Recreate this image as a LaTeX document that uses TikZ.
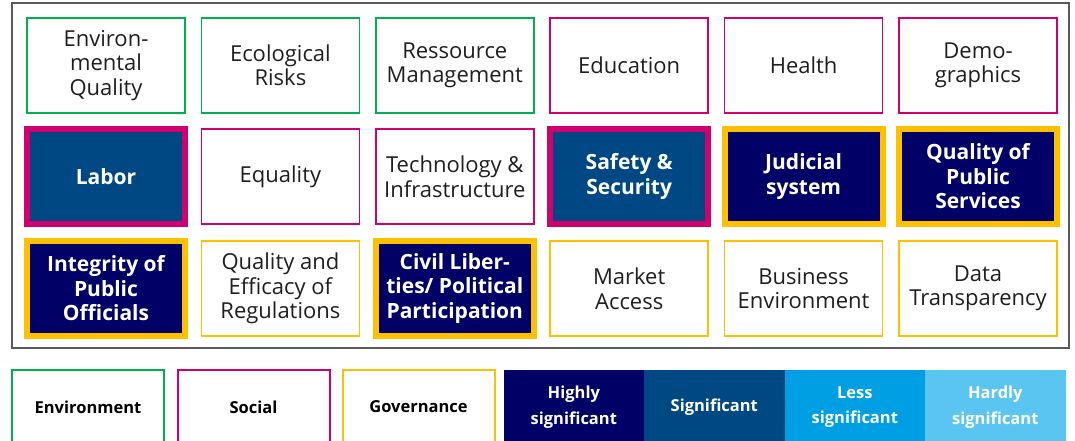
\documentclass[tikz,border=0pt]{standalone}
\usepackage{fontspec}
\setmainfont{Open Sans}
\usetikzlibrary{positioning}
\definecolor{envgreen}{HTML}{00B050}
\definecolor{socmagenta}{HTML}{D0006F}
\definecolor{govgold}{HTML}{FFC000}
\definecolor{highnavy}{HTML}{000066}
\definecolor{signavy}{HTML}{004884}
\definecolor{lessblue}{HTML}{009FE3}
\definecolor{hardblue}{HTML}{5BC5F2}
\definecolor{framegray}{HTML}{595959}
\definecolor{inkgray}{HTML}{1F1F1F}
\begin{document}
\begin{tikzpicture}[x=1pt,y=-1pt,
    factor/.style={draw,line width=1.5pt,fill=white,minimum width=158pt,minimum height=95pt,
      inner sep=0pt,align=center,text=inkgray,font=\fontsize{22}{24.5}\selectfont},
    env/.style={factor,draw=envgreen},
    soc/.style={factor,draw=socmagenta},
    gov/.style={factor,draw=govgold},
    keyfactor/.style={line width=6pt,text=white,font=\fontsize{21}{24.5}\selectfont\bfseries},
    highly/.style={keyfactor,fill=highnavy},
    signif/.style={keyfactor,fill=signavy},
    legbox/.style={draw,line width=2pt,fill=white,minimum width=152pt,minimum height=74pt,
      inner sep=0pt,align=center,text=black,font=\fontsize{16.5}{25.5}\selectfont\bfseries},
    legfill/.style={minimum width=140.5pt,minimum height=74pt,inner sep=0pt,outer sep=0pt,align=center,
      text=white,font=\fontsize{16.5}{25.5}\selectfont\bfseries}]
  \useasboundingbox (0,0) rectangle (1075,441);
  \clip (0,0) rectangle (1075,441);
  \draw[framegray,line width=2pt] (12,3) rectangle (1069,348);
  % first row
  \node[env] (envq) at (106,65.5) {Environ-\\mental\\Quality};
  \node[env] (ecorisk) at (280.4,65.5) {Ecological\\Risks};
  \node[env] (resmgmt) at (454.8,65.5) {Ressource\\Management};
  \node[soc] (edu) at (629.2,65.5) {Education};
  \node[soc] (health) at (803.6,65.5) {Health};
  \node[soc] (demo) at (978,65.5) {Demo-\\graphics};
  % second row
  \node[soc,signif] (labor) at (106,176.5) {Labor};
  \node[soc] (equality) at (280.4,176.5) {Equality};
  \node[soc] (techinf) at (454.8,176.5) {Technology \&\\Infrastructure};
  \node[soc,signif] (safety) at (629.2,176.5) {Safety \&\\Security};
  \node[gov,highly] (judicial) at (803.6,176.5) {Judicial\\system};
  \node[gov,highly] (pubserv) at (978,176.5) {Quality of\\Public\\Services};
  % third row
  \node[gov,highly] (integrity) at (106,288.5) {Integrity of\\Public\\Officials};
  \node[gov] (regul) at (280.4,288.5) {Quality and\\Efficacy of\\Regulations};
  \node[gov,highly] (civlib) at (454.8,288.5) {Civil Liber-\\ties/ Political\\Participation};
  \node[gov] (market) at (629.2,288.5) {Market\\Access};
  \node[gov] (business) at (803.6,288.5) {Business\\Environment};
  \node[gov] (datatr) at (978,288.5) {Data\\Transparency};
  % legend
  \node[legbox,draw=envgreen] (legenv) at (88,407) {Environment};
  \node[legbox,draw=socmagenta] (legsoc) at (253.5,407) {Social};
  \node[legbox,draw=govgold] (leggov) at (418.5,407) {Governance};
  \node[legfill,fill=highnavy] (leghigh) at (573.8,407) {Highly\\significant};
  \node[legfill,fill=signavy,right=0pt of leghigh] (legsig) {Significant};
  \node[legfill,fill=lessblue,right=0pt of legsig] (legless) {Less\\significant};
  \node[legfill,fill=hardblue,right=0pt of legless] (leghard) {Hardly\\significant};
\end{tikzpicture}
\end{document}
